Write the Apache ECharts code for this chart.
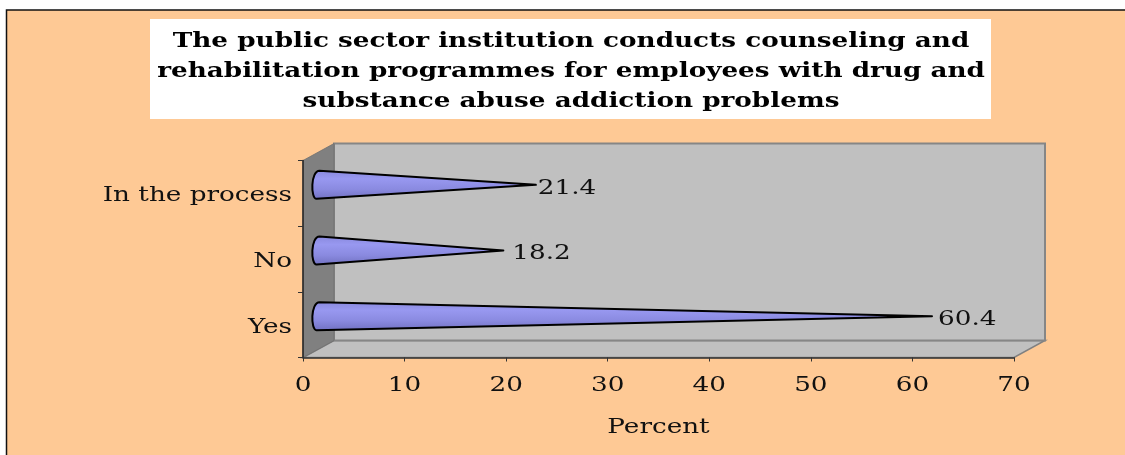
<!DOCTYPE html>
<html>
<head>
<meta charset="utf-8">
<style>html,body{margin:0;padding:0;background:#fff}#chart{width:1125px;height:455px}</style>
<script src="https://cdn.jsdelivr.net/npm/echarts@6/dist/echarts.min.js"></script>
</head>
<body>
<div id="chart"></div>
<script>
// Survey responses, listed from the bottom of the axis upward.
const categories = ['Yes', 'No', 'In the process'];
const percentValues = [60.4, 18.2, 21.4];
const xTicks = { min: 0, max: 70, interval: 10 };
const axisName = 'Percent';
const chartTitle = 'The public sector institution conducts counseling and\nrehabilitation programmes for employees with drug and\nsubstance abuse addiction problems';

// Oblique projection of the 3D box, in pixels.
const DEPTH_X = 31;
const DEPTH_Y = 17;
const CONE_RADIUS = 14;
const LABEL_GAPS = [6, 9, 2];

const FONT = '"DejaVu Serif", serif';
// All text on this chart is set in a horizontally widened face.
const TEXT_WIDEN = 1.25;
const CATEGORY_LABEL_DROP = 2.5;

function renderFrame(params, api) {
  const r = params.coordSys;
  const x0 = r.x, x1 = r.x + r.width, y0 = r.y, y1 = r.y + r.height;
  const dx = DEPTH_X, dy = DEPTH_Y;
  return {
    type: 'group',
    children: [
      {
        type: 'polygon',
        shape: { points: [[x0, y1], [x0 + dx, y1 - dy], [x1 + dx, y1 - dy], [x1, y1]] },
        style: { fill: '#c0c0c0', stroke: '#808080', lineWidth: 1.5 }
      },
      {
        type: 'rect',
        shape: { x: x0 + dx, y: y0 - dy, width: r.width, height: r.height },
        style: { fill: '#c0c0c0', stroke: '#868686', lineWidth: 2 }
      },
      {
        type: 'polygon',
        shape: { points: [[x0, y0], [x0 + dx, y0 - dy], [x0 + dx, y1 - dy], [x0, y1]] },
        style: { fill: '#808080', stroke: '#707070', lineWidth: 0.8 }
      }
    ]
  };
}

function renderCone(params, api) {
  const idx = api.value(2);
  const base = api.coord([0, idx]);
  const tip = api.coord([api.value(0), idx]);
  const ox = DEPTH_X / 2, oy = -DEPTH_Y / 2;
  const bx = base[0] + ox, cy = base[1] + oy, tx = tip[0] + ox;
  const R = CONE_RADIUS;
  const path =
    'M' + (bx + 1) + ' ' + (cy - R) +
    'L' + tx + ' ' + cy +
    'L' + (bx - 2) + ' ' + (cy + R) +
    'C' + (bx - 8) + ' ' + (cy + R) + ' ' + (bx - 8) + ' ' + (cy - R) + ' ' + (bx + 1) + ' ' + (cy - R) + 'Z';
  return {
    type: 'group',
    children: [
      {
        type: 'path',
        shape: { pathData: path },
        style: {
          fill: new echarts.graphic.LinearGradient(0, 0, 0, 1, [
            { offset: 0, color: '#8888dc' },
            { offset: 0.3, color: '#9898f0' },
            { offset: 0.65, color: '#8a8ae0' },
            { offset: 1, color: '#7070c0' }
          ]),
          stroke: '#000',
          lineWidth: 2,
          lineJoin: 'round'
        }
      },
      {
        type: 'text',
        x: tx + LABEL_GAPS[idx],
        y: cy + 3.5,
        style: {
          text: api.value(0).toFixed(1),
          font: '21px ' + FONT,
          fill: '#111',
          align: 'left',
          verticalAlign: 'middle'
        }
      }
    ]
  };
}

const chart = echarts.init(document.getElementById('chart'), null, { renderer: 'canvas' });
chart.setOption({
  animation: false,
  backgroundColor: '#ffffff',
  graphic: [
    {
      type: 'rect', z: -10, silent: true,
      shape: { x: 6.5, y: 10, width: 1130, height: 460 },
      style: { fill: '#fec995', stroke: '#111', lineWidth: 1.5 }
    },
    {
      type: 'rect', z: -9, silent: true,
      shape: { x: 150, y: 19, width: 841, height: 100 },
      style: { fill: '#ffffff' }
    }
  ],
  title: {
    text: chartTitle,
    left: 566,
    top: 22,
    textAlign: 'center',
    textStyle: { fontFamily: FONT, fontWeight: 'bold', fontSize: 21, lineHeight: 30, color: '#000' }
  },
  grid: { left: 303, top: 160.5, width: 711, height: 197, containLabel: false },
  xAxis: {
    type: 'value',
    min: xTicks.min, max: xTicks.max, interval: xTicks.interval,
    name: axisName,
    nameLocation: 'middle',
    nameGap: 60,
    nameTextStyle: { fontFamily: FONT, fontSize: 21, color: '#111' },
    axisLine: { show: true, lineStyle: { color: '#333', width: 1.5 } },
    axisTick: { show: true, length: 4, lineStyle: { color: '#333', width: 1 } },
    axisLabel: { fontFamily: FONT, fontSize: 21, color: '#111', margin: 18 },
    splitLine: { show: false },
    z: 5
  },
  yAxis: {
    type: 'category',
    data: categories,
    axisLine: { show: true, lineStyle: { color: '#222', width: 1.5 } },
    axisTick: { show: true, length: 5, lineStyle: { color: '#333', width: 1 } },
    axisLabel: { fontFamily: FONT, fontSize: 21, color: '#111', margin: 11 },
    splitLine: { show: false },
    z: 5
  },
  series: [
    {
      type: 'custom',
      coordinateSystem: 'cartesian2d',
      renderItem: renderFrame,
      data: [[0, 0]],
      silent: true,
      clip: false,
      z: 1
    },
    {
      type: 'custom',
      coordinateSystem: 'cartesian2d',
      renderItem: renderCone,
      encode: { x: 0, y: 1 },
      data: percentValues.map((v, i) => [v, categories[i], i]),
      clip: false,
      z: 3
    }
  ]
});

// Widen every text element about its own anchor point and settle the category labels.
const zr = chart.getZr();
zr.storage.getRoots().forEach(function (root) {
  const visit = function (el) {
    if (el.type === 'text') {
      el.scaleX = TEXT_WIDEN;
      if (categories.indexOf(el.style.text) >= 0) {
        el.y += CATEGORY_LABEL_DROP;
      }
      el.markRedraw();
    } else if (el.isGroup) {
      el.eachChild(visit);
    }
  };
  visit(root);
});
zr.flush();
</script>
</body>
</html>
